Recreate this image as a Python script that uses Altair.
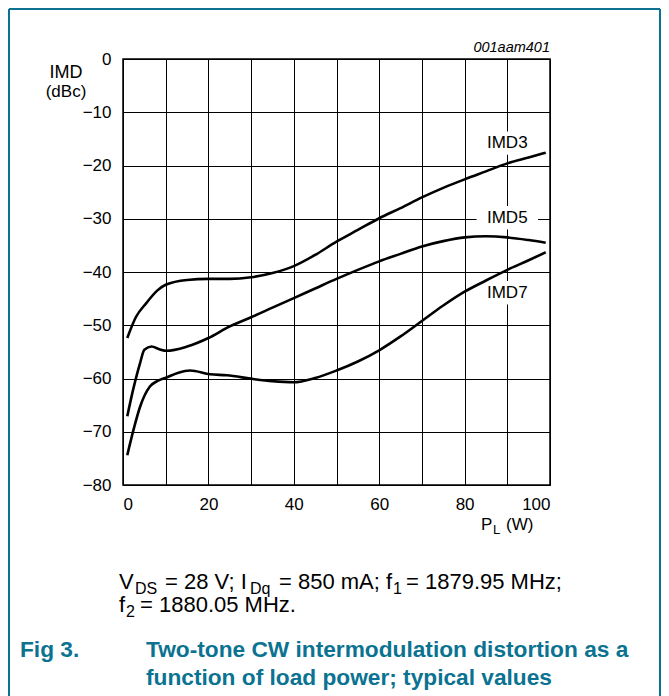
import altair as alt
import pandas as pd

# ---------------- data ----------------
imd3_p = [1, 3, 5.5, 8, 10, 15, 20, 25, 30, 35, 40, 45, 50, 55, 60, 65, 70, 75, 80, 85, 90, 95, 99]
imd3_v = [-52.4, -48.5, -45.8, -43.5, -42.4, -41.5, -41.3, -41.3, -41.0, -40.2, -38.9, -36.8,
          -34.3, -32.1, -29.9, -28.0, -26.0, -24.2, -22.6, -21.1, -19.6, -18.5, -17.6]

imd5_p = [1, 2.4, 4, 5, 6.7, 8.5, 10.2, 15, 20, 25, 30, 35, 40, 45, 50, 55, 60, 65, 70, 75, 80, 85, 90, 95, 99]
imd5_v = [-67.1, -62.0, -57.1, -54.6, -54.0, -54.5, -54.8, -54.0, -52.4, -50.2, -48.5, -46.7,
          -44.9, -43.1, -41.3, -39.6, -38.0, -36.6, -35.2, -34.2, -33.5, -33.3, -33.5, -34.0, -34.5]

imd7_p = [1, 2.5, 4, 6.3, 8, 10.2, 13, 15.7, 20.4, 24.3, 30.5, 35, 39.9, 45, 50, 55, 60, 65, 70,
          75, 80, 85, 90, 95, 99]
imd7_v = [-74.4, -69.5, -65.3, -61.5, -60.5, -59.8, -58.9, -58.5, -59.2, -59.4, -60.1, -60.5,
          -60.7, -59.9, -58.5, -56.8, -54.7, -52.1, -49.2, -46.3, -43.7, -41.6, -39.6, -37.8, -36.3]

series_names = ["IMD3", "IMD5", "IMD7"]
label_p = [90, 90, 90]
label_v = [-15.8, -29.8, -43.9]

x_grid = list(range(0, 101, 10))
y_grid = list(range(-80, 1, 10))

FONT = "Liberation Sans"
TEAL = "#0b7391"

# ---------------- frames ----------------
rows = []
for name, ps, vs in zip(series_names, [imd3_p, imd5_p, imd7_p], [imd3_v, imd5_v, imd7_v]):
    for p, v in zip(ps, vs):
        rows.append({"series": name, "P": p, "IMD": v})
df = pd.DataFrame(rows)

lab = pd.DataFrame({"name": series_names, "P": label_p, "IMD": label_v})
lab["x0"] = lab["P"] - 7.2
lab["x1"] = lab["P"] + 7.2
lab["y0"] = lab["IMD"] - 2.2
lab["y1"] = lab["IMD"] + 2.2

xs = alt.Scale(domain=[0, 100], nice=False, zero=False)
ys = alt.Scale(domain=[-80, 0], nice=False, zero=False)

x_axis = alt.Axis(values=x_grid, labelExpr="datum.value % 20 == 0 ? datum.label : ''",
                  title=None, grid=True, gridColor="black", gridOpacity=1, gridWidth=1,
                  ticks=False, domain=False, labelFontSize=17, labelPadding=11,
                  labelColor="black", labelFont=FONT)
y_axis = alt.Axis(values=y_grid, format="d", title=None, grid=True, gridColor="black",
                  gridOpacity=1, gridWidth=1, ticks=False, domain=False, labelFontSize=17,
                  labelPadding=12, labelColor="black", labelFont=FONT)

lines = alt.Chart(df).mark_line(interpolate="monotone", color="black", strokeWidth=2.6).encode(
    x=alt.X("P:Q", scale=xs, axis=x_axis),
    y=alt.Y("IMD:Q", scale=ys, axis=y_axis),
    detail="series:N",
)

boxes = alt.Chart(lab).mark_rect(color="white").encode(
    x=alt.X("x0:Q", scale=xs), x2="x1:Q",
    y=alt.Y("y0:Q", scale=ys), y2="y1:Q",
)
labels = alt.Chart(lab).mark_text(fontSize=17, font=FONT, color="black").encode(
    x=alt.X("P:Q", scale=xs), y=alt.Y("IMD:Q", scale=ys), text="name:N"
)

OX, OY = 123, 59  # page position of the plot origin


def txt(s, px, py, size=16, align="left", **kw):
    return alt.Chart(pd.DataFrame({"t": [s]})).mark_text(
        align=align, baseline="alphabetic", fontSize=size, font=FONT, **kw
    ).encode(x=alt.value(px - OX), y=alt.value(py - OY), text="t:N")


annots = [
    txt("IMD", 66, 78, 18, align="center", color="black"),
    txt("(dBc)", 66, 97, 17, align="center", color="black"),
    txt("001aam401", 550, 52, 14.5, align="right", color="black", fontStyle="italic"),
    txt("P", 481, 530, 17, color="black"),
    txt("L", 493, 534, 13, color="black"),
    txt("(W)", 506, 530, 17, color="black"),
    # caption line 1
    txt("V", 119, 589, 22, color="black"),
    txt("DS", 135, 594, 16, color="black"),
    txt("= 28 V; I", 165, 589, 22, color="black"),
    txt("Dq", 250, 594, 16, color="black"),
    txt("= 850 mA; f", 279, 589, 22, color="black"),
    txt("1", 393, 594, 16, color="black"),
    txt("= 1879.95 MHz;", 406, 589, 22, color="black"),
    # caption line 2
    txt("f", 119, 612, 22, color="black"),
    txt("2", 126, 617, 16, color="black"),
    txt("= 1880.05 MHz.", 140, 612, 22, color="black"),
    # figure title
    txt("Fig 3.", 20, 657, 22.7, color=TEAL, fontWeight="bold"),
    txt("Two-tone CW intermodulation distortion as a", 146, 657, 22.7, color=TEAL, fontWeight="bold"),
    txt("function of load power; typical values", 146, 685, 22.7, color=TEAL, fontWeight="bold"),
]

# teal frame round the figure (open at the bottom)
frame = alt.Chart(pd.DataFrame({"a": [0]})).mark_rule(color=TEAL, strokeWidth=2)
frame_l = frame.encode(x=alt.value(9 - OX), y=alt.value(9 - OY), y2=alt.value(700 - OY))
frame_t = frame.encode(x=alt.value(9 - OX), x2=alt.value(660 - OX), y=alt.value(9 - OY))
frame_r = frame.encode(x=alt.value(660 - OX), y=alt.value(9 - OY), y2=alt.value(700 - OY))

chart = alt.layer(
    boxes, lines, labels, *annots, frame_l, frame_t, frame_r
).properties(
    width=427, height=426,
    autosize=alt.AutoSizeParams(type="none"),
    padding={"left": 115, "top": 51, "right": 111, "bottom": 211},
    background="white",
).configure_view(stroke="black", strokeWidth=1.5)

chart.save("out.html", embed_options={"renderer": "svg", "actions": False})
